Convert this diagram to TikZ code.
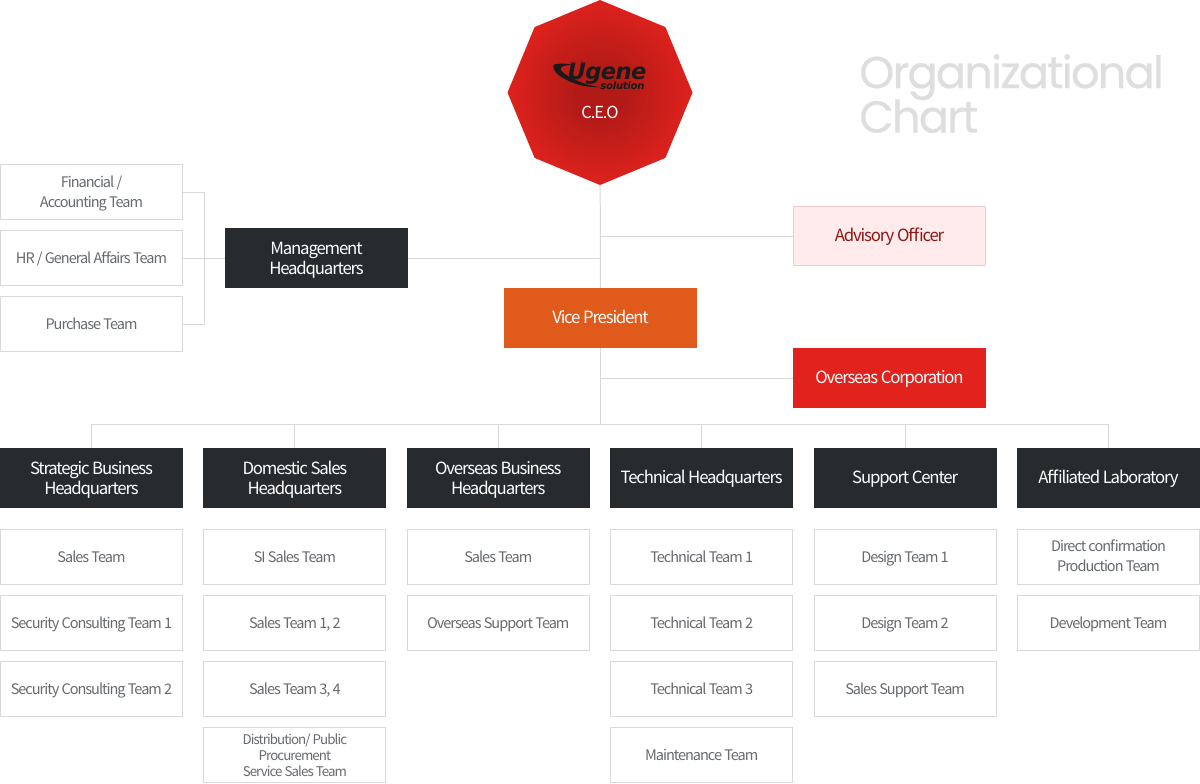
\documentclass[tikz,border=0pt]{standalone}
\usepackage{fontspec}
\usepackage{xcolor}
\setmainfont{Noto Sans CJK KR}[LetterSpace=-7]
\newfontfamily\titlefont{Poppins}[LetterSpace=-4, FakeBold=0.5]
\newfontfamily\logofont{DejaVu Sans}[LetterSpace=-3]
\usetikzlibrary{shapes.geometric,positioning}

\definecolor{lineGray}{HTML}{D9D9D9}
\definecolor{teamText}{HTML}{666B70}
\definecolor{headDark}{HTML}{272B2E}
\definecolor{ceoRed}{HTML}{E1221D}
\definecolor{ceoDark}{HTML}{B11A17}
\definecolor{viceOrange}{HTML}{E05A1C}
\definecolor{advFill}{HTML}{FFEBEB}
\definecolor{advLine}{HTML}{EBCFCF}
\definecolor{advText}{HTML}{8E1714}
\definecolor{titleGray}{HTML}{DEDEDE}
\definecolor{logoBlack}{HTML}{1A1A1A}

\pgfdeclareradialshading{ceoglow}{\pgfpoint{0bp}{0bp}}{color(0bp)=(ceoDark); color(6bp)=(ceoDark); color(26bp)=(ceoRed); color(50bp)=(ceoRed)}
\newcommand{\lblstrut}{\rule[-3.8pt]{0pt}{16pt}}
\newcommand{\lift}[1]{\rule{0pt}{#1}}

\begin{document}
\begin{tikzpicture}[x=0.75pt, y=-0.75pt, node distance=8.25pt,
    team/.style={rectangle, draw=lineGray, fill=white, line width=0.75pt, outer sep=0pt, inner sep=0pt, minimum width=136.5pt, minimum height=41.25pt, align=center, text=teamText, font=\fontsize{10.9}{15}\selectfont, execute at begin node=\lblstrut, execute at end node=\lblstrut},
    head/.style={rectangle, fill=headDark, outer sep=0pt, inner sep=0pt, minimum width=137.25pt, minimum height=45pt, align=center, text=white, font=\fontsize{12.6}{15}\selectfont, execute at begin node=\lblstrut, execute at end node=\lblstrut},
    office/.style={head, minimum width=144.75pt},
    link/.style={draw=lineGray, line width=0.75pt}]

    \useasboundingbox (0,0) rectangle (1200,783);

    % CEO
    \node[regular polygon, regular polygon sides=8, shape border rotate=22.5, minimum size=138.75pt, inner sep=0pt, outer sep=0pt, shading=ceoglow] (ceo) at (600,92.5) {};
    \node[text=logoBlack, font=\logofont\bfseries\itshape\fontsize{17}{17}\selectfont, inner sep=0pt] (logo) at (607,73.5) {Ugene};
    \node[text=logoBlack, font=\logofont\bfseries\itshape\fontsize{7.6}{8}\selectfont, inner sep=0pt] (logosub) at (622.5,86) {solution};
    \fill[logoBlack] (554,64.5) .. controls (561,63) and (568,63.5) .. (572,65) .. controls (560,65) and (556,69) .. (568,76) .. controls (578,82) and (590,86) .. (600,87) .. controls (585,88) and (570,83) .. (560,76) .. controls (554,72) and (552,67) .. (554,64.5) -- cycle;
    \node[text=white, font=\fontsize{12.4}{15}\selectfont, inner sep=0pt] (ceolabel) at (600,112) {C.E.O};

    % Title
    \node[anchor=west, align=left, text=titleGray, inner sep=0pt, font=\titlefont\fontsize{33.5}{33}\selectfont] (title) at (859,93.5) {Organizational\\[-1.5pt]Chart};

    % Upper offices
    \node[office, fill=viceOrange] (vice) at (600.5,318) {Vice President};
    \node[office, fill=advFill, draw=advLine, line width=0.75pt, minimum width=144pt, minimum height=44.25pt, text=advText] (advisory) at (889.5,236) {Advisory Officer};
    \node[office, fill=ceoRed] (overseascorp) at (889.5,378) {Overseas Corporation};

    % Management
    \node[head] (mgmt) at (316.5,258) {\lift{13pt}Management\\Headquarters};
    \node[team] (financial) at (91.5,192) {\lift{11.5pt}Financial /\\Accounting Team};
    \node[team, below=of financial] (hr) {HR / General Affairs Team};
    \node[team, below=of hr] (purchase) {Purchase Team};
    \coordinate (mgmtjoin) at (204.5,258.5);

    % Headquarters row
    \node[head] (strategic) at (91.5,478) {\lift{13pt}Strategic Business\\Headquarters};
    \node[head, right=15.3pt of strategic] (domestic) {\lift{13pt}Domestic Sales\\Headquarters};
    \node[head, right=15.3pt of domestic] (overseas) {\lift{13pt}Overseas Business\\Headquarters};
    \node[head, right=15.3pt of overseas] (technical) {Technical Headquarters};
    \node[head, right=15.3pt of technical] (support) {Support Center};
    \node[head, right=15.3pt of support] (lab) {Affiliated Laboratory};
    \coordinate (bus) at (600.5,424.5);

    % Strategic teams
    \node[team, below=16.125pt of strategic] (stA) {Sales Team};
    \node[team, below=of stA] (stB) {Security Consulting Team 1};
    \node[team, below=of stB] (stC) {Security Consulting Team 2};

    % Domestic teams
    \node[team, below=16.125pt of domestic] (doA) {SI Sales Team};
    \node[team, below=of doA] (doB) {Sales Team 1, 2};
    \node[team, below=of doB] (doC) {Sales Team 3, 4};
    \node[team, below=of doC, font=\fontsize{10}{12}\selectfont] (doD) {\lift{12pt}Distribution/ Public\\Procurement\\Service Sales Team};

    % Overseas teams
    \node[team, below=16.125pt of overseas] (ovA) {Sales Team};
    \node[team, below=of ovA] (ovB) {Overseas Support Team};

    % Technical teams
    \node[team, below=16.125pt of technical] (teA) {Technical Team 1};
    \node[team, below=of teA] (teB) {Technical Team 2};
    \node[team, below=of teB] (teC) {Technical Team 3};
    \node[team, below=of teC] (teD) {Maintenance Team};

    % Support teams
    \node[team, below=16.125pt of support] (suA) {Design Team 1};
    \node[team, below=of suA] (suB) {Design Team 2};
    \node[team, below=of suB] (suC) {Sales Support Team};

    % Laboratory teams
    \node[team, below=16.125pt of lab] (laA) {\lift{10pt}Direct confirmation\\Production Team};
    \node[team, below=of laA] (laB) {Development Team};

    % Connectors
    \draw[link] (ceo) -- (vice);
    \draw[link] (advisory) -- (advisory -| vice);
    \draw[link] (overseascorp) -- (overseascorp -| vice);
    \draw[link] (mgmt.east |- mgmtjoin) -- (mgmtjoin -| vice);
    \draw[link] (vice) -- (bus);
    \draw[link] (mgmtjoin) -- (mgmt.west |- mgmtjoin);
    \draw[link] (hr.east |- mgmtjoin) -- (mgmtjoin);
    \draw[link] (financial) -| (mgmtjoin);
    \draw[link] (purchase) -| (mgmtjoin);
    \foreach \hq in {strategic,domestic,overseas,technical,support,lab}
        \draw[link] (\hq) |- (bus);

\end{tikzpicture}
\end{document}
